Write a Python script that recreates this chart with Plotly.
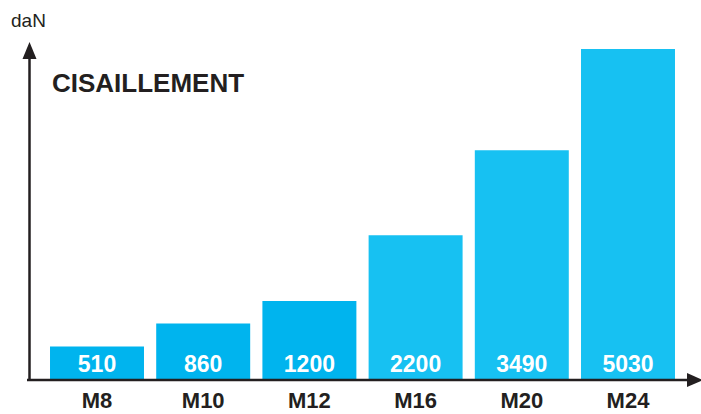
import plotly.graph_objects as go

categories = ["M8", "M10", "M12", "M16", "M20", "M24"]
values = [510, 860, 1200, 2200, 3490, 5030]
bar_colors = ["#00B4EE", "#00B4EE", "#00B4EE", "#17C1F2", "#17C1F2", "#17C1F2"]
title_text = "CISAILLEMENT"
unit_text = "daN"

W, H = 701, 414
BASE = 380  # pixel row of baseline
FONT = "Liberation Sans, Arial, Helvetica, sans-serif"
INK = "#231F20"

def px(x):
    return x / W

def py(y):
    return (BASE - y) / BASE

fig = go.Figure()
fig.add_trace(go.Bar(
    x=list(range(len(categories))),
    y=values,
    width=0.885,
    marker=dict(color=bar_colors, line=dict(width=0)),
    text=[str(v) for v in values],
    textposition="inside",
    insidetextanchor="start",
    textangle=0,
    constraintext="none",
    textfont=dict(family=FONT, size=23, color="white", weight="bold"),
    hoverinfo="skip",
    cliponaxis=False,
))

shapes = [
    dict(type="line", xref="paper", yref="paper", x0=px(27), x1=px(692), y0=py(380), y1=py(380),
         line=dict(color=INK, width=2.5)),
    dict(type="line", xref="paper", yref="paper", x0=px(29.5), x1=px(29.5), y0=py(381), y1=py(52),
         line=dict(color=INK, width=2.5)),
    dict(type="path", xref="paper", yref="paper",
         path=f"M {px(22.5)} {py(59)} L {px(29.5)} {py(42)} L {px(36.5)} {py(59)} Z",
         fillcolor=INK, line=dict(width=0)),
    dict(type="path", xref="paper", yref="paper",
         path=f"M {px(687)} {py(373)} L {px(703)} {py(380)} L {px(687)} {py(387)} Z",
         fillcolor=INK, line=dict(width=0)),
]

annotations = [
    dict(text=unit_text, xref="paper", yref="paper", x=px(28), y=py(20), xanchor="center", yanchor="middle",
         showarrow=False, font=dict(family=FONT, size=19, color=INK)),
    dict(text=title_text, xref="paper", yref="paper", x=px(50), y=py(83), xanchor="left", yanchor="middle",
         showarrow=False, font=dict(family=FONT, size=26, color=INK, weight="bold")),
]

ytop = 5030 * BASE / (BASE - 49)
x0 = -97 / 106.2
x1 = (W - 97) / 106.2

fig.update_layout(
    width=W, height=H,
    margin=dict(l=0, r=0, t=0, b=H - BASE, pad=0),
    paper_bgcolor="white", plot_bgcolor="white",
    showlegend=False,
    xaxis=dict(range=[x0, x1], tickmode="array", tickvals=list(range(len(categories))), ticktext=categories,
               showgrid=False, zeroline=False, showline=False, ticks="", automargin=False,
               ticklabelstandoff=5,
               tickfont=dict(family=FONT, size=22, color=INK, weight="bold"), fixedrange=True),
    yaxis=dict(range=[0, ytop], showgrid=False, zeroline=False, showline=False, showticklabels=False,
               ticks="", automargin=False, fixedrange=True),
    shapes=shapes,
    annotations=annotations,
)

fig.write_html("out.html", config={"displayModeBar": False},
               post_script="document.body.style.margin='0';document.body.style.overflow='hidden';")
